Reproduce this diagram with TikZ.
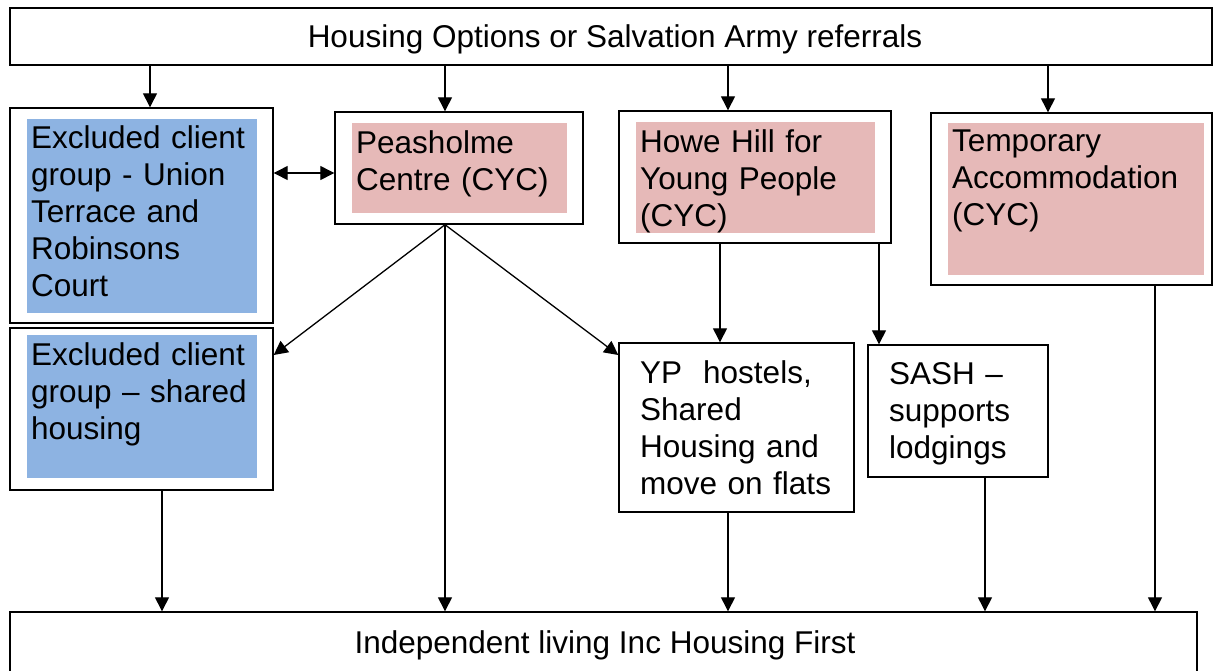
\documentclass[tikz,border=0pt]{standalone}
\usepackage{fontspec}
\setmainfont{Liberation Sans}
\usepackage{xcolor}
\usetikzlibrary{arrows.meta}
\definecolor{exblue}{HTML}{8DB3E2}
\definecolor{cycpink}{HTML}{E6B9B8}

\begin{document}
\begin{tikzpicture}[x=1pt,y=-1pt,font=\fontsize{31.5}{37}\selectfont,
  box/.style={draw,line width=1.4pt,inner sep=0pt},
  bluefill/.style={fill=exblue,inner sep=0pt},
  pinkfill/.style={fill=cycpink,inner sep=0pt},
  txt/.style={anchor=north west,inner sep=0pt,align=left,text width=#1},
  arr/.style={line width=1.3pt,-{Triangle[length=14pt,width=14pt]}},
  dblarr/.style={line width=1.3pt,{Triangle[length=14pt,width=14pt]}-{Triangle[length=14pt,width=14pt]}}]
  \useasboundingbox (0,0) rectangle (1220,670);

  % outer boxes
  \node[box,minimum width=1202pt,minimum height=57pt] (ref) at (611,36.5) {};
  \node[box,minimum width=263pt,minimum height=215pt] (excl) at (141.5,215.5) {};
  \node[box,minimum width=263pt,minimum height=162pt] (exclsh) at (141.5,409) {};
  \node[box,minimum width=248pt,minimum height=112pt] (peas) at (459,168) {};
  \node[box,minimum width=272pt,minimum height=132pt] (howe) at (755,177) {};
  \node[box,minimum width=281pt,minimum height=172pt] (temp) at (1071.5,199) {};
  \node[box,minimum width=235pt,minimum height=169pt] (yp) at (736.5,427.5) {};
  \node[box,minimum width=180pt,minimum height=132pt] (sash) at (958,411) {};
  \node[box,minimum width=1187pt,minimum height=90pt] (indep) at (603.5,657) {};

  % coloured panels
  \node[bluefill,minimum width=230pt,minimum height=194pt] (exclfill) at (142,216) {};
  \node[bluefill,minimum width=230pt,minimum height=143pt] (exclshfill) at (142,406.5) {};
  \node[pinkfill,minimum width=215pt,minimum height=90pt] (peasfill) at (459.5,168) {};
  \node[pinkfill,minimum width=239pt,minimum height=111pt] (howefill) at (755.5,177.5) {};
  \node[pinkfill,minimum width=256pt,minimum height=152pt] (tempfill) at (1076,199) {};

  % texts
  \node[anchor=base] (reftext) at (615,47) {Housing Options or Salvation Army referrals};
  \node[txt=225pt] (excltext) at (31,125) {Excluded client\\group - Union\\Terrace and\\Robinsons\\Court};
  \node[txt=225pt] (exclshtext) at (31,342) {Excluded client\\group – shared\\housing};
  \node[txt=215pt] (peastext) at (356,130) {Peasholme\\Centre (CYC)};
  \node[txt=240pt] (howetext) at (640,129) {Howe Hill for\\Young People\\(CYC)};
  \node[txt=255pt] (temptext) at (952,130) {Temporary\\Accommodation\\(CYC)};
  \node[txt=215pt] (yptext) at (640,360) {YP~~hostels,\\Shared\\Housing and\\move on flats};
  \node[txt=160pt] (sashtext) at (889,362) {SASH –\\supports\\lodgings};
  \node[anchor=base] (indeptext) at (605,653) {Independent living Inc Housing First};

  \draw[arr] (ref.south -| 150,0) -- (excl.north -| 150,0);
  \draw[arr] (ref.south -| 445,0) -- (peas.north -| 445,0);
  \draw[arr] (ref.south -| 728,0) -- (howe.north -| 728,0);
  \draw[arr] (ref.south -| 1048,0) -- (temp.north -| 1048,0);
  \draw[dblarr] (excl.east |- 0,173) -- (peas.west |- 0,173);
  \draw[arr] (peas.south -| 445,0) -- (exclsh.east |- 0,355);
  \draw[arr] (peas.south -| 445,0) -- (yp.west |- 0,355);
  \draw[arr] (peas.south -| 445,0) -- (indep.north -| 445,0);
  \draw[arr] (howe.south -| 720,0) -- (yp.north -| 720,0);
  \draw[arr] (howe.south -| 879,0) -- (sash.north -| 879,0);
  \draw[arr] (exclsh.south -| 162,0) -- (indep.north -| 162,0);
  \draw[arr] (yp.south -| 728,0) -- (indep.north -| 728,0);
  \draw[arr] (sash.south -| 985,0) -- (indep.north -| 985,0);
  \draw[arr] (temp.south -| 1155,0) -- (indep.north -| 1155,0);
\end{tikzpicture}
\end{document}
